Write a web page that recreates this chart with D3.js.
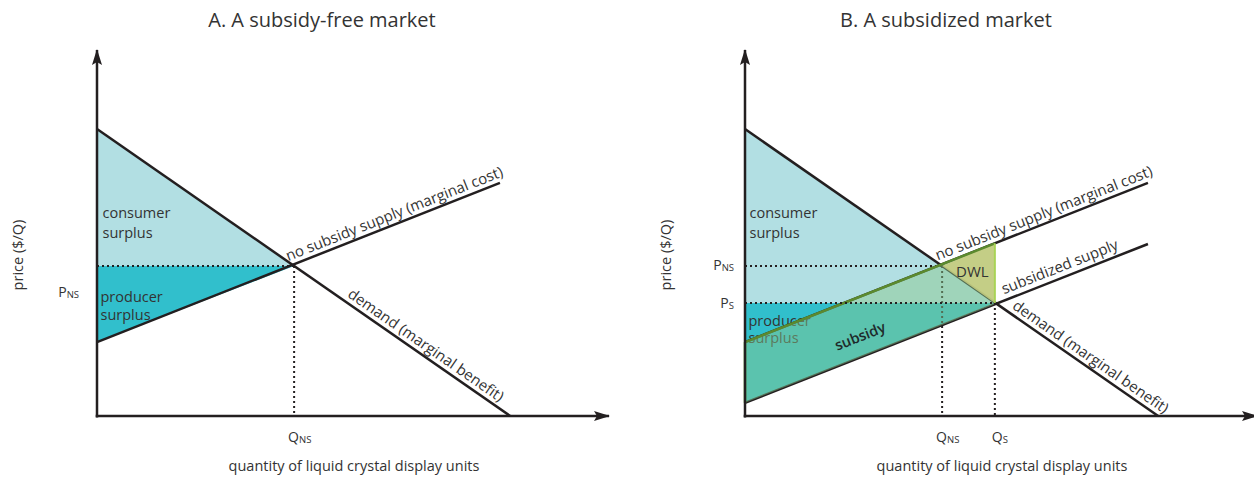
<!DOCTYPE html>
<html>
<head>
<meta charset="utf-8">
<script src="https://cdn.jsdelivr.net/npm/d3@7"></script>
<style>
  body { margin: 0; background: #fff; }
  text { font-family: "Open Sans", sans-serif; fill: #333; }
</style>
</head>
<body>
<div id="chart"></div>
<script>
var width = 1254;
var height = 479;

// curves as [quantity, price] end points (0-100 units on both axes)
var demand = [[0, 78.4], [80.7, 0]];
var supplyNoSubsidy = [[0, 20.2], [78.7, 63.7]];
var supplySubsidized = [[0, 3.6], [78.7, 47.0]];

// equilibria, [quantity, price]
var eqNoSubsidy = [38.5, 41.0];
var eqSubsidized = [48.8, 30.9];

var panelTitles = ["A. A subsidy-free market", "B. A subsidized market"];
var panelLeft = [97, 745];
var titleCenter = [322, 946];
var axisTitles = ["price ($/Q)", "quantity of liquid crystal display units"];
var curveNames = ["no subsidy supply (marginal cost)", "subsidized supply", "demand (marginal benefit)"];

var ink = "#231f20";

function priceAt(line, q) {
  return line[0][1] + (line[1][1] - line[0][1]) * (q - line[0][0]) / (line[1][0] - line[0][0]);
}

var svg = d3.select("#chart")
  .append("svg")
  .attr("width", width)
  .attr("height", height);

svg.append("defs")
  .append("marker")
  .attr("id", "arrow")
  .attr("viewBox", "0 0 16 10")
  .attr("refX", 15)
  .attr("refY", 5)
  .attr("markerWidth", 16)
  .attr("markerHeight", 10)
  .attr("markerUnits", "userSpaceOnUse")
  .attr("orient", "auto")
  .append("path")
  .attr("d", "M0,0L16,5L0,10L3,5Z")
  .attr("fill", ink);

panelTitles.forEach(function(title, i) {
  drawPanel(i, title, i === 1);
});

function drawPanel(i, title, subsidized) {
  var x0 = panelLeft[i];
  var x = d3.scaleLinear().domain([0, 100]).range([x0, x0 + 512]);
  var y = d3.scaleLinear().domain([0, 100]).range([416, 50]);
  var g = svg.append("g");
  var line = d3.line()
    .x(function(d) { return x(d[0]); })
    .y(function(d) { return y(d[1]); });
  var poly = function(pts) { return line(pts) + "Z"; };

  var eq = subsidized ? eqSubsidized : eqNoSubsidy;
  var baseSupply = subsidized ? supplySubsidized : supplyNoSubsidy;

  // consumer surplus
  g.append("path")
    .attr("d", poly([[0, demand[0][1]], eq, [0, eq[1]]]))
    .attr("fill", "#b2dfe3");
  // producer surplus
  g.append("path")
    .attr("d", poly([[0, eq[1]], eq, [0, baseSupply[0][1]]]))
    .attr("fill", "#31bfcc");

  var areaText = g.append("g").style("font-size", "14.5px");
  var tx = x0 + (subsidized ? 4.5 : 5.5);
  areaText.append("text").attr("x", tx).attr("y", 218).text("consumer");
  areaText.append("text").attr("x", tx).attr("y", 238).text("surplus");
  areaText.append("text").attr("x", x0 + 3.5).attr("y", subsidized ? 326 : 302).text("producer");
  areaText.append("text").attr("x", x0 + 3.5).attr("y", subsidized ? 343 : 320).text("surplus");

  var dotted = function(pts) {
    g.append("path")
      .attr("d", line(pts))
      .attr("fill", "none")
      .attr("stroke", ink)
      .attr("stroke-width", 2)
      .attr("stroke-dasharray", "2,3");
  };

  // no-subsidy equilibrium guides
  dotted([[0, eqNoSubsidy[1]], eqNoSubsidy]);
  dotted([eqNoSubsidy, [eqNoSubsidy[0], 0]]);

  var stroke = function(pts, col, w) {
    g.append("path")
      .attr("d", line(pts))
      .attr("fill", "none")
      .attr("stroke", col)
      .attr("stroke-width", w);
  };

  stroke(demand, ink, 2.5);
  stroke(supplyNoSubsidy, ink, 2.5);

  if (subsidized) {
    stroke(supplySubsidized, ink, 2.5);
    var qs = eqSubsidized[0];
    var topAtQs = priceAt(supplyNoSubsidy, qs);
    var subsidyArea = [[0, supplyNoSubsidy[0][1]], [qs, topAtQs], [qs, priceAt(supplySubsidized, qs)], [0, supplySubsidized[0][1]]];
    g.append("path")
      .attr("d", poly(subsidyArea))
      .attr("fill", "rgb(138,200,140)")
      .attr("fill-opacity", 0.47);
    // dead weight loss
    g.append("path")
      .attr("d", poly([eqNoSubsidy, [qs, topAtQs], eqSubsidized]))
      .attr("fill", "#c3cb7e")
      .attr("fill-opacity", 0.9);
    stroke([[0, supplyNoSubsidy[0][1]], [qs, topAtQs]], "#5b8a2e", 2.5);
    stroke([[0, supplySubsidized[0][1]], [0, supplyNoSubsidy[0][1]]], "#6aa834", 2.5);
    stroke([[qs, topAtQs], [qs, eqSubsidized[1]]], "#a9d356", 2);
    dotted([[0, eqSubsidized[1]], eqSubsidized]);
    dotted([eqSubsidized, [qs, 0]]);

    g.append("text")
      .attr("x", x(eqNoSubsidy[0]) + 14)
      .attr("y", 277)
      .style("font-size", "15px")
      .text("DWL");

    g.append("text")
      .attr("transform", "translate(" + (x0 + 117) + "," + 341 + ")rotate(" + slopeAngle(supplySubsidized) + ")")
      .attr("text-anchor", "middle")
      .style("font-size", "14.5px")
      .style("font-weight", 600)
      .style("fill", "#1e2a2a")
      .text("subsidy");
  }

  function slopeAngle(l) {
    return Math.atan2(y(l[1][1]) - y(l[0][1]), x(l[1][0]) - x(l[0][0])) * 180 / Math.PI;
  }

  function lineText(l, q, offset, txt) {
    g.append("text")
      .attr("transform", "translate(" + x(q) + "," + y(priceAt(l, q)) + ")rotate(" + slopeAngle(l) + ")")
      .attr("y", offset)
      .style("font-size", "15px")
      .text(txt);
  }

  lineText(supplyNoSubsidy, subsidized ? 38.0 : 37.7, -5, curveNames[0]);
  if (subsidized) lineText(supplySubsidized, 51.0, -6, curveNames[1]);
  lineText(demand, subsidized ? 51.5 : 48.2, -5, curveNames[2]);

  // axes
  g.append("path")
    .attr("d", line([[0, -0.4], [0, 100]]))
    .attr("stroke", ink)
    .attr("stroke-width", 2.5)
    .attr("marker-end", "url(#arrow)");
  g.append("path")
    .attr("d", line([[-0.25, 0], [100, 0]]))
    .attr("stroke", ink)
    .attr("stroke-width", 2.5)
    .attr("marker-end", "url(#arrow)");

  // titles
  g.append("text")
    .attr("x", titleCenter[i])
    .attr("y", 27)
    .attr("text-anchor", "middle")
    .style("font-size", "20px")
    .text(title);
  g.append("text")
    .attr("transform", "translate(" + (x0 - 74) + ",255)rotate(-90)")
    .attr("text-anchor", "middle")
    .style("font-size", "14.5px")
    .text(axisTitles[0]);
  g.append("text")
    .attr("x", x0 + 257)
    .attr("y", 471)
    .attr("text-anchor", "middle")
    .style("font-size", "14.5px")
    .text(axisTitles[1]);

  // equilibrium labels with subscripts
  var sub = function(xp, yp, main, s, anchor) {
    var t = g.append("text")
      .attr("x", xp)
      .attr("y", yp)
      .attr("text-anchor", anchor)
      .style("font-size", "14px");
    t.append("tspan").text(main);
    t.append("tspan").attr("dy", 1).style("font-size", "9.5px").text(s);
  };
  sub(x(eqNoSubsidy[0]) - 6, 442, "Q", "NS", "start");
  if (subsidized) {
    sub(x0 - 11, 270, "P", "NS", "end");
    sub(x0 - 11, 308, "P", "S", "end");
    sub(x(eqSubsidized[0]) - 3, 442, "Q", "S", "start");
  } else {
    sub(x0 - 18, 297, "P", "NS", "end");
  }
}
</script>
</body>
</html>
